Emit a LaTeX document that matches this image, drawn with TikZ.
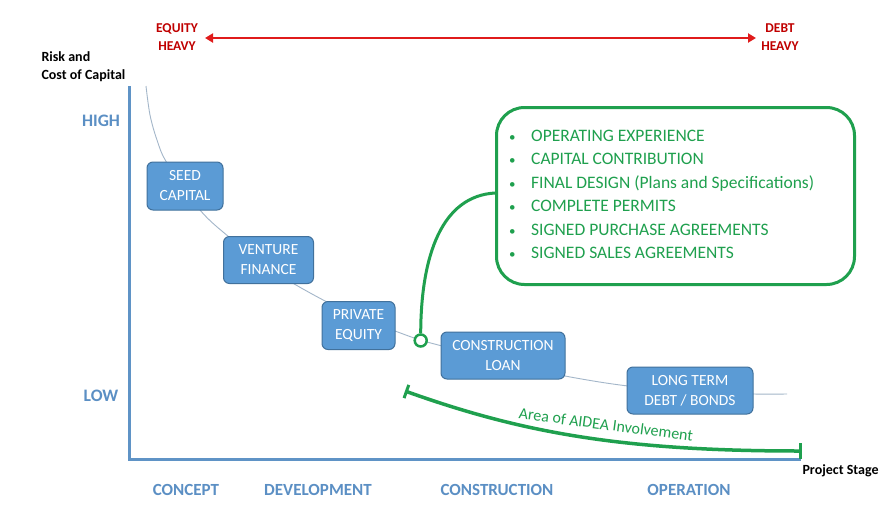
\documentclass[tikz,border=0pt]{standalone}
\usepackage{fontspec}
\setmainfont{Carlito}
\usetikzlibrary{arrows.meta}
\definecolor{boxfill}{HTML}{5B9BD5}
\definecolor{boxline}{HTML}{41719C}
\definecolor{axisblue}{HTML}{5F93C6}
\definecolor{lblblue}{HTML}{5B8FC4}
\definecolor{trendc}{HTML}{A3B6C9}
\definecolor{aideagreen}{HTML}{1FA04E}
\definecolor{eqred}{HTML}{C00000}
\definecolor{arrred}{HTML}{E01B1B}
\begin{document}
\begin{tikzpicture}[x=1pt,y=-1pt,
  stagebox/.style={draw=boxline, line width=1pt, fill=boxfill, rounded corners=6pt,
    text=white, align=center, font=\fontsize{15.5}{20}\selectfont, inner sep=0pt},
  axisline/.style={draw=axisblue, line width=3pt},
  trend/.style={draw=trendc, line width=0.9pt},
  lvl/.style={text=lblblue, font=\fontsize{17.5}{20}\selectfont\bfseries},
  stage/.style={text=lblblue, font=\fontsize{17}{20}\selectfont\bfseries},
  blk/.style={text=black, font=\fontsize{14}{18}\selectfont\bfseries, align=left},
  heavy/.style={text=eqred, font=\fontsize{13.5}{18}\selectfont\bfseries, align=center},
  gline/.style={draw=aideagreen, line width=3pt},
]
\useasboundingbox (0,0) rectangle (895,520);
\fill[white] (0,0) rectangle (895,520);

% trend curve (behind boxes)
\draw[trend] plot[smooth, tension=0.55] coordinates {(146,86) (150,115) (157,140) (167,163) (200,210) (229,237) (268,268) (296,285) (327,302) (360,318) (395,331) (420,340) (442,346) (500,362) (565,376) (628,386) (700,392) (753,394) (787,394)};

% axes
\coordinate (ytop) at (129,86);
\coordinate (orig) at (129,459);
\coordinate (xend) at (801,459);
\draw[axisline] (ytop) -- (orig) -- (xend);

% axis captions
\node[blk, anchor=north west] (risk) at (38,48) {Risk and\\Cost of Capital};
\node[blk, anchor=west] (pstage) at (799,471) {Project Stage};
\node[lvl] (high) at (101,121) {HIGH};
\node[lvl] (low) at (101,396) {LOW};
\node[stage] (concept) at (186,490) {CONCEPT};
\node[stage] (devel) at (318,490) {DEVELOPMENT};
\node[stage] (constr) at (497,490) {CONSTRUCTION};
\node[stage] (oper) at (689,490) {OPERATION};

% equity/debt
\node[heavy] (eq) at (177,37) {EQUITY\\HEAVY};
\node[heavy] (debt) at (780,37) {DEBT\\HEAVY};
\coordinate (aL) at (205,38);
\coordinate (aR) at (756,38);
\draw[draw=arrred, line width=2.6pt, {Triangle[length=8pt,width=9pt]}-{Triangle[length=8pt,width=9pt]}] (aL) -- (aR);

% stage boxes
\node[stagebox, minimum width=76pt, minimum height=48pt] (seed) at (185,186) {SEED\\CAPITAL};
\node[stagebox, minimum width=90pt, minimum height=47pt] (venture) at (268.5,260) {VENTURE\\FINANCE};
\node[stagebox, minimum width=73pt, minimum height=48pt] (pe) at (358.5,325.5) {PRIVATE\\EQUITY};
\node[stagebox, minimum width=124pt, minimum height=47pt] (cl) at (503,355.5) {CONSTRUCTION\\LOAN};
\node[stagebox, minimum width=126pt, minimum height=47pt] (ltd) at (690,390.5) {LONG TERM\\DEBT / BONDS};

% requirements box
\node[draw=aideagreen, line width=3pt, rounded corners=28pt, minimum width=358pt, minimum height=177pt, anchor=north west, inner sep=0pt] (req) at (495,106) {};
\node[anchor=north west, text=aideagreen, font=\fontsize{17.5}{23.4}\selectfont, align=left, inner sep=0pt] (reqtext) at (509,130) {%
\makebox[22pt][l]{\fontsize{13}{13}\selectfont\textbullet}OPERATING EXPERIENCE\\
\makebox[22pt][l]{\fontsize{13}{13}\selectfont\textbullet}CAPITAL CONTRIBUTION\\
\makebox[22pt][l]{\fontsize{13}{13}\selectfont\textbullet}FINAL DESIGN (Plans and Specifications)\\
\makebox[22pt][l]{\fontsize{13}{13}\selectfont\textbullet}COMPLETE PERMITS\\
\makebox[22pt][l]{\fontsize{13}{13}\selectfont\textbullet}SIGNED PURCHASE AGREEMENTS\\
\makebox[22pt][l]{\fontsize{13}{13}\selectfont\textbullet}SIGNED SALES AGREEMENTS};

% green connector with circle
\node[circle, draw=aideagreen, line width=2.5pt, fill=white, minimum size=12pt, inner sep=0pt] (dot) at (420.7,340.5) {};
\coordinate (reqin) at (req.west |- 0,193);
\draw[gline, line width=3pt] (dot.north) .. controls (421,255) and (442,196) .. (reqin);

% area of AIDEA involvement
\coordinate (arL) at (405,391);
\coordinate (arR) at (802,451);
\draw[gline, line width=3.5pt, {Bar[width=14pt,line width=3pt]}-{Bar[width=16pt,line width=3pt]}] (arL) .. controls (520,432) and (620,451) .. (arR);
\node[text=aideagreen, font=\fontsize{16}{18}\selectfont, rotate=-7.5, inner sep=0pt] (area) at (606,424.5) {Area of AIDEA Involvement};
\end{tikzpicture}
\end{document}
